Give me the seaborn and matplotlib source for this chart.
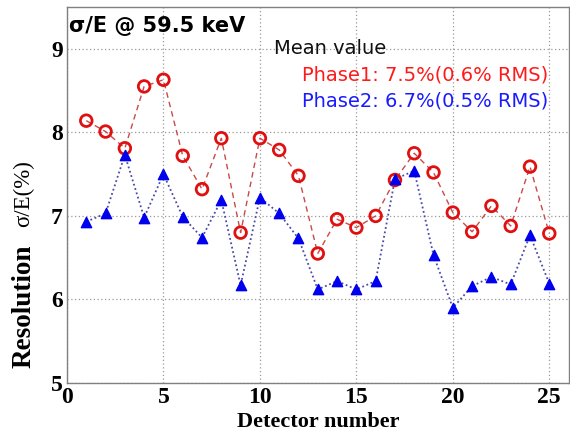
import matplotlib
matplotlib.use("Agg")
import matplotlib.pyplot as plt
import seaborn as sns
import pandas as pd

detectors = list(range(1, 26))
phase1 = [8.14, 8.01, 7.81, 8.55, 8.63, 7.72, 7.32, 7.93, 6.80, 7.93, 7.79, 7.48,
          6.55, 6.96, 6.86, 7.00, 7.43, 7.75, 7.52, 7.04, 6.81, 7.12, 6.88, 7.59, 6.79]
phase2 = [6.93, 7.03, 7.73, 6.98, 7.50, 6.99, 6.74, 7.19, 6.17, 7.22, 7.03, 6.73,
          6.12, 6.22, 6.12, 6.22, 7.44, 7.54, 6.53, 5.90, 6.16, 6.27, 6.18, 6.77, 6.19]
x_ticks = [0, 5, 10, 15, 20, 25]
y_ticks = [5, 6, 7, 8, 9]

df = pd.DataFrame({"Detector": detectors, "Phase1": phase1, "Phase2": phase2})

sns.set_style("white")
fig = plt.figure(figsize=(5.70, 4.41), dpi=100)
ax = fig.add_axes([0.1175, 0.1315, 0.88, 0.8525])

sns.lineplot(data=df, x="Detector", y="Phase1", ax=ax, color="#c84a4a",
             linestyle=(0, (4, 3)), linewidth=1.0, zorder=2)
sns.lineplot(data=df, x="Detector", y="Phase2", ax=ax, color="#4a4aa8",
             linestyle=(0, (1, 1.5)), linewidth=1.3, zorder=2)
ax.scatter(df["Detector"], df["Phase1"], s=70, facecolors="none",
           edgecolors="#e01010", linewidths=2.0, zorder=3)
ax.scatter(df["Detector"], df["Phase2"], s=55, marker="^", color="#0000ee",
           edgecolors="#0000ee", zorder=4)

ax.set_xlim(0, 26)
ax.set_ylim(5, 9.5)
ax.set_xticks(x_ticks)
ax.set_yticks(y_ticks)
ax.grid(True, color="#9a9a9a", linestyle=(0, (1, 2)), linewidth=0.9)
for s in ax.spines.values():
    s.set_color("#808080")
    s.set_linewidth(1.0)
ax.tick_params(axis="both", direction="in", length=4, color="#808080",
               labelsize=17, pad=3, labelcolor="black")
for lab in ax.get_xticklabels() + ax.get_yticklabels():
    lab.set_fontfamily("Liberation Serif")
    lab.set_fontweight("bold")
ax.set_xlabel("Detector number", fontfamily="Liberation Serif", fontweight="bold",
              fontsize=16, labelpad=3, color="black")
ax.set_ylabel("")

fig.text(0.042, 0.306, "Resolution", rotation=90, ha="center", va="center",
         fontfamily="Liberation Serif", fontweight="bold", fontsize=19.5, color="black")
fig.text(0.042, 0.562, "σ/E(%)", rotation=90, ha="center", va="center",
         fontfamily="Liberation Serif", fontsize=16.5, color="black")

ax.text(0.005, 0.975, "σ/E @ 59.5 keV", transform=ax.transAxes, ha="left", va="top",
        fontfamily="DejaVu Sans", fontweight="bold", fontsize=15, color="black")
fig.text(0.481, 0.889, "Mean value", ha="left", va="center",
         fontfamily="DejaVu Sans", fontsize=14, color="#111111")
fig.text(0.530, 0.830, "Phase1: 7.5%(0.6% RMS)", ha="left", va="center",
         fontfamily="DejaVu Sans", fontsize=14, color="#ff1a1a")
fig.text(0.530, 0.771, "Phase2: 6.7%(0.5% RMS)", ha="left", va="center",
         fontfamily="DejaVu Sans", fontsize=14, color="#1a1aff")

fig.savefig("out.png", dpi=100)
